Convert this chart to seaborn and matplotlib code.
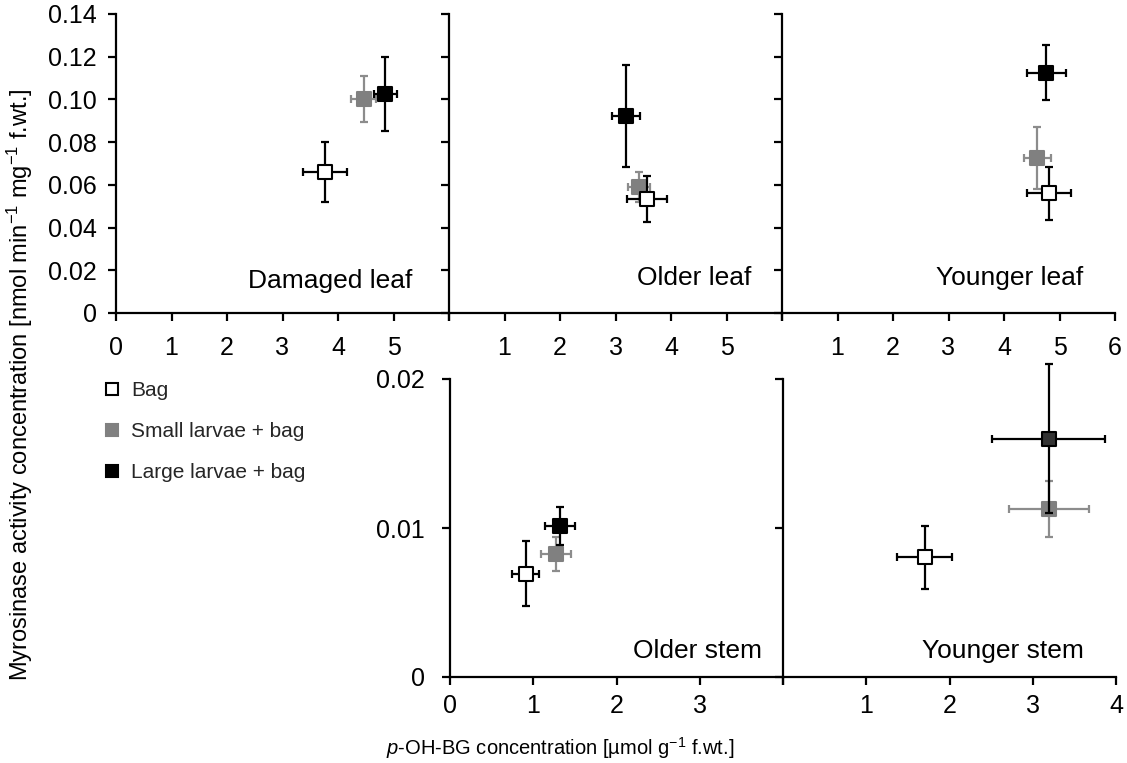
import numpy as np
import pandas as pd
import matplotlib
matplotlib.use("Agg")
import matplotlib.pyplot as plt
import seaborn as sns
from matplotlib.lines import Line2D

# ---------------- data ----------------
tissues = ["Damaged leaf", "Older leaf", "Younger leaf", "Older stem", "Younger stem"]
treatments = ["Bag", "Small larvae + bag", "Large larvae + bag"]

# p-OH-BG concentration (x) means and errors
pohbg_bag = [3.77, 3.56, 4.81, 0.91, 1.70]
pohbg_small = [4.46, 3.43, 4.60, 1.27, 3.19]
pohbg_large = [4.85, 3.19, 4.76, 1.32, 3.19]
pohbg_err_bag = [0.40, 0.36, 0.39, 0.16, 0.33]
pohbg_err_small = [0.23, 0.20, 0.24, 0.18, 0.48]
pohbg_err_large = [0.21, 0.25, 0.35, 0.18, 0.68]

# Myrosinase activity (y) means and errors
myr_bag = [0.0662, 0.0534, 0.0560, 0.00694, 0.00803]
myr_small = [0.1002, 0.0588, 0.0727, 0.00826, 0.01128]
myr_large = [0.1024, 0.0922, 0.1125, 0.01015, 0.0160]
myr_err_bag = [0.0140, 0.0107, 0.0125, 0.0022, 0.0021]
myr_err_small = [0.0107, 0.0070, 0.0146, 0.00113, 0.0019]
myr_err_large = [0.0174, 0.0240, 0.0130, 0.00127, 0.0050]

top_xticks = [0, 1, 2, 3, 4, 5, 6]
top_yticks = [0, 0.02, 0.04, 0.06, 0.08, 0.10, 0.12, 0.14]
bot_xticks = [0, 1, 2, 3, 4]
bot_yticks = [0, 0.01, 0.02]

rows = []
for t_name, xs, xe, ys, ye in [
    ("Bag", pohbg_bag, pohbg_err_bag, myr_bag, myr_err_bag),
    ("Small larvae + bag", pohbg_small, pohbg_err_small, myr_small, myr_err_small),
    ("Large larvae + bag", pohbg_large, pohbg_err_large, myr_large, myr_err_large),
]:
    for i, tis in enumerate(tissues):
        rows.append(dict(tissue=tis, treatment=t_name, x=xs[i], xerr=xe[i], y=ys[i], yerr=ye[i]))
df = pd.DataFrame(rows)

# ---------------- styling ----------------
sns.set_theme(style="ticks")
plt.rcParams["font.family"] = ["Liberation Sans", "DejaVu Sans"]
plt.rcParams["mathtext.fontset"] = "custom"
plt.rcParams["mathtext.rm"] = "Liberation Sans"
plt.rcParams["mathtext.it"] = "Liberation Sans:italic"
plt.rcParams["mathtext.default"] = "regular"

styles = {
    "Bag": dict(face="white", edge="black", ecol="black"),
    "Small larvae + bag": dict(face="#808080", edge="#808080", ecol="#8c8c8c"),
    "Large larvae + bag": dict(face="black", edge="black", ecol="black"),
}
face_override = {("Younger stem", "Large larvae + bag"): "#333333"}
draw_order = ["Small larvae + bag", "Bag", "Large larvae + bag"]

W, H = 1127, 763
fig = plt.figure(figsize=(W / 100, H / 100), dpi=100)


def px_axes(left, top, right, bottom):
    return fig.add_axes([left / W, 1 - bottom / H, (right - left) / W, (bottom - top) / H])


axes = {
    "Damaged leaf": px_axes(116, 14, 449, 313),
    "Older leaf": px_axes(449, 14, 782, 313),
    "Younger leaf": px_axes(782, 14, 1115, 313),
    "Older stem": px_axes(450, 379, 783, 677),
    "Younger stem": px_axes(783, 379, 1116, 677),
}

label_pos = {
    "Damaged leaf": (0.889, 0.084),
    "Older leaf": (0.909, 0.094),
    "Younger leaf": (0.904, 0.094),
    "Older stem": (0.936, 0.064),
    "Younger stem": (0.904, 0.064),
}


def fmt(v):
    return "0" if v == 0 else ("%.2f" % v)


for idx, tis in enumerate(tissues):
    ax = axes[tis]
    top = idx < 3
    sub_all = df[df.tissue == tis]
    for k, tr in enumerate(draw_order):
        st = styles[tr]
        sub = sub_all[sub_all.treatment == tr]
        ax.errorbar(sub.x, sub.y, xerr=sub.xerr, yerr=sub.yerr, fmt="none",
                    ecolor=st["ecol"], elinewidth=1.6, capsize=3.2, capthick=1.6,
                    zorder=3 + 2 * k, clip_on=False)
        face = face_override.get((tis, tr), st["face"])
        sns.scatterplot(data=sub, x="x", y="y", ax=ax, marker="s", s=88,
                        color=face, edgecolor=st["edge"], linewidth=1.5,
                        zorder=4 + 2 * k, legend=False, clip_on=False)

    for s in ["top", "right"]:
        ax.spines[s].set_visible(False)
    for s in ["left", "bottom"]:
        ax.spines[s].set_color("black")
        ax.spines[s].set_linewidth(1.6)
    ax.set_facecolor("none")

    if top:
        ax.set_xlim(0, 6)
        ax.set_ylim(0, 0.14)
        ax.set_xticks(top_xticks)
        ax.set_yticks(top_yticks)
        if idx == 0:
            xl = [str(v) for v in top_xticks[:-1]] + [""]
            ax.set_yticklabels([fmt(v) for v in top_yticks])
        elif idx == 1:
            xl = [""] + [str(v) for v in top_xticks[1:-1]] + [""]
            ax.set_yticklabels([""] * len(top_yticks))
        else:
            xl = [""] + [str(v) for v in top_xticks[1:]]
            ax.set_yticklabels([""] * len(top_yticks))
        ax.set_xticklabels(xl)
        ax.tick_params(axis="x", pad=10.5)
        ax.tick_params(axis="y", pad=8)
    else:
        ax.set_xlim(0, 4)
        ax.set_ylim(0, 0.02)
        ax.set_xticks(bot_xticks)
        ax.set_yticks(bot_yticks)
        if idx == 3:
            xl = [str(v) for v in bot_xticks[:-1]] + [""]
            ax.set_yticklabels([fmt(v) for v in bot_yticks])
        else:
            xl = [""] + [str(v) for v in bot_xticks[1:]]
            ax.set_yticklabels([""] * len(bot_yticks))
        ax.set_xticklabels(xl)
        ax.tick_params(axis="x", pad=6.5)
        ax.tick_params(axis="y", pad=12)
    ax.tick_params(axis="both", direction="out", length=6, width=1.6,
                   color="black", labelsize=18, labelcolor="black")
    ax.set_xlabel("")
    ax.set_ylabel("")
    lx, ly = label_pos[tis]
    ax.text(lx, ly, tis, transform=ax.transAxes, ha="right", va="baseline",
            fontsize=19, color="black")

# legend
handles = []
for tr in treatments:
    st = styles[tr]
    handles.append(Line2D([], [], marker="s", linestyle="", markersize=9,
                          markerfacecolor=st["face"], markeredgecolor=st["edge"],
                          markeredgewidth=1.5))
fig.legend(handles, treatments, loc="upper left",
           bbox_to_anchor=(104 / W, 1 - 381 / H), frameon=False, fontsize=15,
           handlelength=0.8, handletextpad=0.5, labelspacing=1.06,
           borderpad=0, borderaxespad=0)

fig.text(20 / W, 1 - 385 / H,
         "Myrosinase activity concentration [nmol min$^{-1}$ mg$^{-1}$ f.wt.]",
         rotation=90, ha="center", va="center", fontsize=17, color="black")
fig.text(560 / W, 1 - 748 / H,
         r"$\mathit{p}$-OH-BG concentration [µmol g$^{-1}$ f.wt.]",
         ha="center", va="center", fontsize=14.5, color="black")

fig.savefig("out.png", dpi=100)
